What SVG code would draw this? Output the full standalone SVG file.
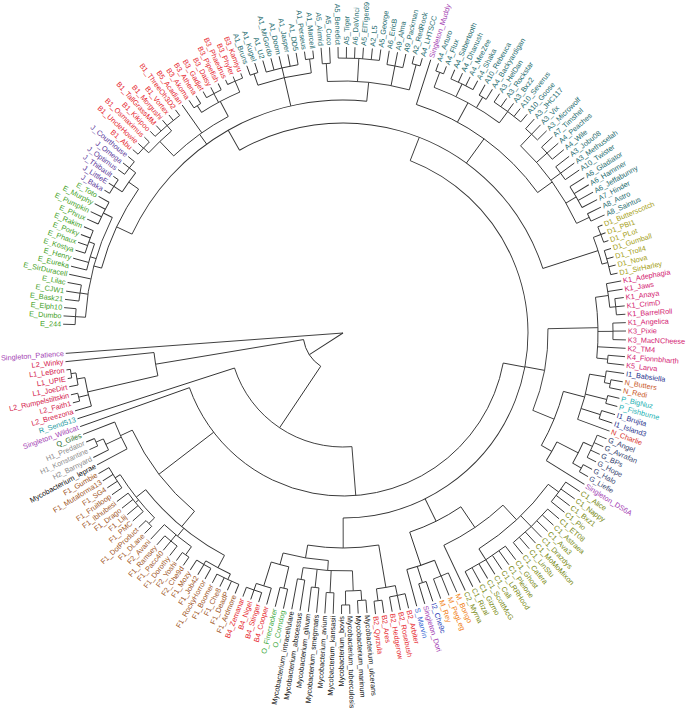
<svg xmlns="http://www.w3.org/2000/svg" width="689" height="716" viewBox="0 0 689 716">
<style>
#tree circle{fill:none;stroke:#333;stroke-width:.9}
#tree path{fill:none;stroke:#333;stroke-width:.9}
text{font-family:"Liberation Sans",Arial,sans-serif;font-size:7.3px}
.e text{text-anchor:end}
.A{fill:#246b6e}.B{fill:#e6262e}.J{fill:#5c3b9c}.E{fill:#3f9f26}.D{fill:#a5a015}.K{fill:#d3186f}
.I{fill:#27318c}.N{fill:#c9581f}.Nc{fill:#d8322b}.P{fill:#22b2b4}.G{fill:#35446f}.S{fill:#a33db3}
.C{fill:#788912}.M{fill:#f07e12}.I2{fill:#2c40b8}.Sm{fill:#2f62d2}.My{fill:#111}.O{fill:#3aa83a}
.F{fill:#9f571f}.H{fill:#8c8c8c}.Q{fill:#1f6c1f}.R{fill:#1f9ba2}.L{fill:#d4204b}
</style>
<rect width="689" height="716" fill="#fff"/>
<g id="tree" transform="translate(343 333)">
<path transform="rotate(535.8)" d="M0 0H278"/><path transform="rotate(507.18)" d="M0 0H40"/>
<circle r="40" pathLength="360" stroke-dasharray="46.75 999" transform="rotate(483.8)"/>
<path transform="rotate(483.8)" d="M40 0H114"/><path transform="rotate(530.55)" d="M40 0H190"/>
<circle r="190" pathLength="360" stroke-dasharray="7.1 999" transform="rotate(527)"/>
<path transform="rotate(527)" d="M190 0H262"/><path transform="rotate(534.1)" d="M190 0H279"/>
<circle r="262" pathLength="360" stroke-dasharray="6.4 999" transform="rotate(523.8)"/>
<path transform="rotate(523.8)" d="M262 0H279"/><path transform="rotate(526.35)" d="M262 0H272"/><path transform="rotate(530.2)" d="M262 0H270"/>
<circle r="272" pathLength="360" stroke-dasharray="1.7 999" transform="rotate(525.5)"/>
<path transform="rotate(525.5)" d="M272 0H279"/><path transform="rotate(527.2)" d="M272 0H279"/>
<circle r="270" pathLength="360" stroke-dasharray="2.6 999" transform="rotate(528.9)"/>
<path transform="rotate(528.9)" d="M270 0H279"/><path transform="rotate(531.5)" d="M270 0H275"/>
<circle r="275" pathLength="360" stroke-dasharray="1.8 999" transform="rotate(530.6)"/>
<path transform="rotate(530.6)" d="M275 0H279"/><path transform="rotate(532.4)" d="M275 0H279"/>
<circle r="114" pathLength="360" stroke-dasharray="76.59 999" transform="rotate(445.51)"/>
<path transform="rotate(445.51)" d="M114 0H163"/><path transform="rotate(522.1)" d="M114 0H279"/>
<circle r="163" pathLength="360" stroke-dasharray="149.78 999" transform="rotate(370.62)"/>
<path transform="rotate(370.62)" d="M163 0H185"/><path transform="rotate(502.5)" d="M163 0H232"/><path transform="rotate(520.4)" d="M163 0H279"/>
<circle r="232" pathLength="360" stroke-dasharray="25.45 999" transform="rotate(489.8)"/>
<path transform="rotate(489.8)" d="M232 0H252"/><path transform="rotate(515.25)" d="M232 0H245"/>
<circle r="252" pathLength="360" stroke-dasharray="23.5 999" transform="rotate(478.05)"/>
<path transform="rotate(478.05)" d="M252 0H266"/><path transform="rotate(489.18)" d="M252 0H262"/><path transform="rotate(501.55)" d="M252 0H264"/>
<circle r="266" pathLength="360" stroke-dasharray="6 999" transform="rotate(475.05)"/>
<path transform="rotate(475.05)" d="M266 0H272"/><path transform="rotate(481.05)" d="M266 0H270"/>
<circle r="272" pathLength="360" stroke-dasharray="5.1 999" transform="rotate(472.5)"/>
<path transform="rotate(472.5)" d="M272 0H282"/><path transform="rotate(474.2)" d="M272 0H282"/><path transform="rotate(475.9)" d="M272 0H282"/><path transform="rotate(477.6)" d="M272 0H282"/>
<circle r="270" pathLength="360" stroke-dasharray="3.5 999" transform="rotate(479.3)"/>
<path transform="rotate(479.3)" d="M270 0H282"/><path transform="rotate(481)" d="M270 0H282"/><path transform="rotate(482.8)" d="M270 0H282"/>
<circle r="262" pathLength="360" stroke-dasharray="7.65 999" transform="rotate(485.35)"/>
<path transform="rotate(485.35)" d="M262 0H272"/><path transform="rotate(489.6)" d="M262 0H270"/><path transform="rotate(493)" d="M262 0H282"/>
<circle r="272" pathLength="360" stroke-dasharray="1.7 999" transform="rotate(484.5)"/>
<path transform="rotate(484.5)" d="M272 0H282"/><path transform="rotate(486.2)" d="M272 0H282"/>
<circle r="270" pathLength="360" stroke-dasharray="3.4 999" transform="rotate(487.9)"/>
<path transform="rotate(487.9)" d="M270 0H282"/><path transform="rotate(489.6)" d="M270 0H282"/><path transform="rotate(491.3)" d="M270 0H282"/>
<circle r="264" pathLength="360" stroke-dasharray="12 999" transform="rotate(495.55)"/>
<path transform="rotate(495.55)" d="M264 0H272"/><path transform="rotate(500.75)" d="M264 0H268"/><path transform="rotate(507.55)" d="M264 0H270"/>
<circle r="272" pathLength="360" stroke-dasharray="1.7 999" transform="rotate(494.7)"/>
<path transform="rotate(494.7)" d="M272 0H282"/><path transform="rotate(496.4)" d="M272 0H282"/>
<circle r="268" pathLength="360" stroke-dasharray="5.1 999" transform="rotate(498.2)"/>
<path transform="rotate(498.2)" d="M268 0H282"/><path transform="rotate(499.9)" d="M268 0H282"/><path transform="rotate(501.6)" d="M268 0H282"/><path transform="rotate(503.3)" d="M268 0H282"/>
<circle r="270" pathLength="360" stroke-dasharray="5.1 999" transform="rotate(505)"/>
<path transform="rotate(505)" d="M270 0H282"/><path transform="rotate(506.7)" d="M270 0H282"/><path transform="rotate(508.4)" d="M270 0H282"/><path transform="rotate(510.1)" d="M270 0H282"/>
<circle r="245" pathLength="360" stroke-dasharray="6.9 999" transform="rotate(511.8)"/>
<path transform="rotate(511.8)" d="M245 0H279"/><path transform="rotate(514.83)" d="M245 0H262"/><path transform="rotate(518.7)" d="M245 0H279"/>
<circle r="262" pathLength="360" stroke-dasharray="2.65 999" transform="rotate(513.5)"/>
<path transform="rotate(513.5)" d="M262 0H279"/><path transform="rotate(516.15)" d="M262 0H270"/>
<circle r="270" pathLength="360" stroke-dasharray="1.7 999" transform="rotate(515.3)"/>
<path transform="rotate(515.3)" d="M270 0H279"/><path transform="rotate(517)" d="M270 0H279"/>
<circle r="185" pathLength="360" stroke-dasharray="158.66 999" transform="rotate(291.29)"/>
<path transform="rotate(291.29)" d="M185 0H210"/><path transform="rotate(370.5)" d="M185 0H205"/><path transform="rotate(423.67)" d="M185 0H210"/><path transform="rotate(449.95)" d="M185 0H215"/>
<circle r="210" pathLength="360" stroke-dasharray="101.62 999" transform="rotate(240.48)"/>
<path transform="rotate(240.48)" d="M210 0H233"/><path transform="rotate(305.99)" d="M210 0H240"/><path transform="rotate(342.1)" d="M210 0H268"/>
<circle r="233" pathLength="360" stroke-dasharray="70.75 999" transform="rotate(205.1)"/>
<path transform="rotate(205.1)" d="M233 0H250"/><path transform="rotate(234.18)" d="M233 0H245"/><path transform="rotate(257.05)" d="M233 0H262"/><path transform="rotate(275.85)" d="M233 0H252"/>
<circle r="250" pathLength="360" stroke-dasharray="20.1 999" transform="rotate(195.05)"/>
<path transform="rotate(195.05)" d="M250 0H258"/><path transform="rotate(215.15)" d="M250 0H262"/>
<circle r="258" pathLength="360" stroke-dasharray="23.1 999" transform="rotate(183.5)"/>
<path transform="rotate(183.5)" d="M258 0H268"/><path transform="rotate(188.65)" d="M258 0H266"/><path transform="rotate(192.1)" d="M258 0H280"/><path transform="rotate(196.78)" d="M258 0H264"/><path transform="rotate(206.6)" d="M258 0H268"/>
<circle r="268" pathLength="360" stroke-dasharray="3.4 999" transform="rotate(181.8)"/>
<path transform="rotate(181.8)" d="M268 0H280"/><path transform="rotate(183.5)" d="M268 0H280"/><path transform="rotate(185.2)" d="M268 0H280"/>
<circle r="266" pathLength="360" stroke-dasharray="3.5 999" transform="rotate(186.9)"/>
<path transform="rotate(186.9)" d="M266 0H280"/><path transform="rotate(188.6)" d="M266 0H280"/><path transform="rotate(190.4)" d="M266 0H280"/>
<circle r="264" pathLength="360" stroke-dasharray="5.95 999" transform="rotate(193.8)"/>
<path transform="rotate(193.8)" d="M264 0H280"/><path transform="rotate(195.5)" d="M264 0H280"/><path transform="rotate(199.75)" d="M264 0H270"/>
<circle r="270" pathLength="360" stroke-dasharray="5.1 999" transform="rotate(197.2)"/>
<path transform="rotate(197.2)" d="M270 0H280"/><path transform="rotate(198.9)" d="M270 0H280"/><path transform="rotate(200.6)" d="M270 0H280"/><path transform="rotate(202.3)" d="M270 0H280"/>
<circle r="268" pathLength="360" stroke-dasharray="5.2 999" transform="rotate(204)"/>
<path transform="rotate(204)" d="M268 0H280"/><path transform="rotate(205.7)" d="M268 0H280"/><path transform="rotate(207.5)" d="M268 0H280"/><path transform="rotate(209.2)" d="M268 0H280"/>
<circle r="262" pathLength="360" stroke-dasharray="5.1 999" transform="rotate(212.6)"/>
<path transform="rotate(212.6)" d="M262 0H272"/><path transform="rotate(217.7)" d="M262 0H270"/>
<circle r="272" pathLength="360" stroke-dasharray="3.4 999" transform="rotate(210.9)"/>
<path transform="rotate(210.9)" d="M272 0H278"/><path transform="rotate(212.6)" d="M272 0H278"/><path transform="rotate(214.3)" d="M272 0H278"/>
<circle r="270" pathLength="360" stroke-dasharray="3.4 999" transform="rotate(216)"/>
<path transform="rotate(216)" d="M270 0H278"/><path transform="rotate(217.7)" d="M270 0H278"/><path transform="rotate(219.4)" d="M270 0H278"/>
<circle r="245" pathLength="360" stroke-dasharray="15.8 999" transform="rotate(226.28)"/>
<path transform="rotate(226.28)" d="M245 0H265"/><path transform="rotate(234.8)" d="M245 0H279"/><path transform="rotate(242.08)" d="M245 0H262"/>
<circle r="265" pathLength="360" stroke-dasharray="6.85 999" transform="rotate(222.85)"/>
<path transform="rotate(222.85)" d="M265 0H272"/><path transform="rotate(229.7)" d="M265 0H272"/>
<circle r="272" pathLength="360" stroke-dasharray="3.5 999" transform="rotate(221.1)"/>
<path transform="rotate(221.1)" d="M272 0H279"/><path transform="rotate(222.8)" d="M272 0H279"/><path transform="rotate(224.6)" d="M272 0H279"/>
<circle r="272" pathLength="360" stroke-dasharray="6.8 999" transform="rotate(226.3)"/>
<path transform="rotate(226.3)" d="M272 0H279"/><path transform="rotate(228)" d="M272 0H279"/><path transform="rotate(229.7)" d="M272 0H279"/><path transform="rotate(231.4)" d="M272 0H279"/><path transform="rotate(233.1)" d="M272 0H279"/>
<circle r="262" pathLength="360" stroke-dasharray="9.45 999" transform="rotate(237.35)"/>
<path transform="rotate(237.35)" d="M262 0H270"/><path transform="rotate(241.65)" d="M262 0H272"/><path transform="rotate(246.8)" d="M262 0H274"/>
<circle r="270" pathLength="360" stroke-dasharray="1.7 999" transform="rotate(236.5)"/>
<path transform="rotate(236.5)" d="M270 0H279"/><path transform="rotate(238.2)" d="M270 0H279"/>
<circle r="272" pathLength="360" stroke-dasharray="3.5 999" transform="rotate(239.9)"/>
<path transform="rotate(239.9)" d="M272 0H279"/><path transform="rotate(241.7)" d="M272 0H279"/><path transform="rotate(243.4)" d="M272 0H279"/>
<circle r="274" pathLength="360" stroke-dasharray="3.4 999" transform="rotate(245.1)"/>
<path transform="rotate(245.1)" d="M274 0H279"/><path transform="rotate(246.8)" d="M274 0H279"/><path transform="rotate(248.5)" d="M274 0H279"/>
<circle r="262" pathLength="360" stroke-dasharray="12 999" transform="rotate(251.05)"/>
<path transform="rotate(251.05)" d="M262 0H274"/><path transform="rotate(257.05)" d="M262 0H272"/><path transform="rotate(263.05)" d="M262 0H276"/>
<circle r="274" pathLength="360" stroke-dasharray="1.7 999" transform="rotate(250.2)"/>
<path transform="rotate(250.2)" d="M274 0H284"/><path transform="rotate(251.9)" d="M274 0H284"/>
<circle r="272" pathLength="360" stroke-dasharray="6.9 999" transform="rotate(253.6)"/>
<path transform="rotate(253.6)" d="M272 0H284"/><path transform="rotate(255.3)" d="M272 0H284"/><path transform="rotate(257)" d="M272 0H284"/><path transform="rotate(258.8)" d="M272 0H284"/><path transform="rotate(260.5)" d="M272 0H284"/>
<circle r="276" pathLength="360" stroke-dasharray="1.7 999" transform="rotate(262.2)"/>
<path transform="rotate(262.2)" d="M276 0H284"/><path transform="rotate(263.9)" d="M276 0H284"/>
<circle r="252" pathLength="360" stroke-dasharray="18.8 999" transform="rotate(266.45)"/>
<path transform="rotate(266.45)" d="M252 0H270"/><path transform="rotate(273.3)" d="M252 0H275"/><path transform="rotate(281)" d="M252 0H272"/><path transform="rotate(285.25)" d="M252 0H278"/>
<circle r="270" pathLength="360" stroke-dasharray="1.7 999" transform="rotate(265.6)"/>
<path transform="rotate(265.6)" d="M270 0H286"/><path transform="rotate(267.3)" d="M270 0H286"/>
<circle r="275" pathLength="360" stroke-dasharray="8.6 999" transform="rotate(269)"/>
<path transform="rotate(269)" d="M275 0H286"/><path transform="rotate(270.7)" d="M275 0H286"/><path transform="rotate(272.4)" d="M275 0H286"/><path transform="rotate(274.1)" d="M275 0H286"/><path transform="rotate(275.9)" d="M275 0H286"/><path transform="rotate(277.6)" d="M275 0H286"/>
<circle r="272" pathLength="360" stroke-dasharray="3.4 999" transform="rotate(279.3)"/>
<path transform="rotate(279.3)" d="M272 0H286"/><path transform="rotate(281)" d="M272 0H286"/><path transform="rotate(282.7)" d="M272 0H286"/>
<circle r="278" pathLength="360" stroke-dasharray="1.7 999" transform="rotate(284.4)"/>
<path transform="rotate(284.4)" d="M278 0H286"/><path transform="rotate(286.1)" d="M278 0H286"/>
<circle r="240" pathLength="360" stroke-dasharray="36.38 999" transform="rotate(287.8)"/>
<path transform="rotate(287.8)" d="M240 0H287"/><path transform="rotate(298.5)" d="M240 0H262"/><path transform="rotate(324.18)" d="M240 0H258"/>
<circle r="262" pathLength="360" stroke-dasharray="16.3 999" transform="rotate(290.35)"/>
<path transform="rotate(290.35)" d="M262 0H278"/><path transform="rotate(295.55)" d="M262 0H276"/><path transform="rotate(300.65)" d="M262 0H274"/><path transform="rotate(306.65)" d="M262 0H276"/>
<circle r="278" pathLength="360" stroke-dasharray="1.7 999" transform="rotate(289.5)"/>
<path transform="rotate(289.5)" d="M278 0H286"/><path transform="rotate(291.2)" d="M278 0H286"/>
<circle r="276" pathLength="360" stroke-dasharray="5.1 999" transform="rotate(293)"/>
<path transform="rotate(293)" d="M276 0H286"/><path transform="rotate(294.7)" d="M276 0H286"/><path transform="rotate(296.4)" d="M276 0H286"/><path transform="rotate(298.1)" d="M276 0H286"/>
<circle r="274" pathLength="360" stroke-dasharray="1.7 999" transform="rotate(299.8)"/>
<path transform="rotate(299.8)" d="M274 0H286"/><path transform="rotate(301.5)" d="M274 0H286"/>
<circle r="276" pathLength="360" stroke-dasharray="6.9 999" transform="rotate(303.2)"/>
<path transform="rotate(303.2)" d="M276 0H286"/><path transform="rotate(304.9)" d="M276 0H286"/><path transform="rotate(306.6)" d="M276 0H286"/><path transform="rotate(308.3)" d="M276 0H286"/><path transform="rotate(310.1)" d="M276 0H286"/>
<circle r="258" pathLength="360" stroke-dasharray="21.35 999" transform="rotate(313.5)"/>
<path transform="rotate(313.5)" d="M258 0H274"/><path transform="rotate(318.6)" d="M258 0H272"/><path transform="rotate(323.7)" d="M258 0H270"/><path transform="rotate(329.75)" d="M258 0H270"/><path transform="rotate(334.85)" d="M258 0H272"/>
<circle r="274" pathLength="360" stroke-dasharray="3.4 999" transform="rotate(311.8)"/>
<path transform="rotate(311.8)" d="M274 0H287"/><path transform="rotate(313.5)" d="M274 0H287"/><path transform="rotate(315.2)" d="M274 0H287"/>
<circle r="272" pathLength="360" stroke-dasharray="3.4 999" transform="rotate(316.9)"/>
<path transform="rotate(316.9)" d="M272 0H287"/><path transform="rotate(318.6)" d="M272 0H287"/><path transform="rotate(320.3)" d="M272 0H287"/>
<circle r="270" pathLength="360" stroke-dasharray="3.4 999" transform="rotate(322)"/>
<path transform="rotate(322)" d="M270 0H287"/><path transform="rotate(323.7)" d="M270 0H287"/><path transform="rotate(325.4)" d="M270 0H287"/>
<circle r="270" pathLength="360" stroke-dasharray="5.1 999" transform="rotate(327.2)"/>
<path transform="rotate(327.2)" d="M270 0H287"/><path transform="rotate(328.9)" d="M270 0H287"/><path transform="rotate(330.6)" d="M270 0H287"/><path transform="rotate(332.3)" d="M270 0H287"/>
<circle r="272" pathLength="360" stroke-dasharray="1.7 999" transform="rotate(334)"/>
<path transform="rotate(334)" d="M272 0H287"/><path transform="rotate(335.7)" d="M272 0H287"/>
<circle r="268" pathLength="360" stroke-dasharray="6 999" transform="rotate(339.1)"/>
<path transform="rotate(339.1)" d="M268 0H276"/><path transform="rotate(345.1)" d="M268 0H274"/>
<circle r="276" pathLength="360" stroke-dasharray="3.4 999" transform="rotate(337.4)"/>
<path transform="rotate(337.4)" d="M276 0H281"/><path transform="rotate(339.1)" d="M276 0H281"/><path transform="rotate(340.8)" d="M276 0H281"/>
<circle r="274" pathLength="360" stroke-dasharray="5.2 999" transform="rotate(342.5)"/>
<path transform="rotate(342.5)" d="M274 0H281"/><path transform="rotate(344.3)" d="M274 0H281"/><path transform="rotate(346)" d="M274 0H281"/><path transform="rotate(347.7)" d="M274 0H281"/>
<circle r="205" pathLength="360" stroke-dasharray="23.4 999" transform="rotate(358.8)"/>
<path transform="rotate(358.8)" d="M205 0H255"/><path transform="rotate(382.2)" d="M205 0H228"/>
<circle r="255" pathLength="360" stroke-dasharray="13.7 999" transform="rotate(351.95)"/>
<path transform="rotate(351.95)" d="M255 0H268"/><path transform="rotate(359.65)" d="M255 0H270"/><path transform="rotate(363.1)" d="M255 0H283"/><path transform="rotate(365.65)" d="M255 0H266"/>
<circle r="268" pathLength="360" stroke-dasharray="5.1 999" transform="rotate(349.4)"/>
<path transform="rotate(349.4)" d="M268 0H283"/><path transform="rotate(351.1)" d="M268 0H283"/><path transform="rotate(354.5)" d="M268 0H274"/>
<circle r="274" pathLength="360" stroke-dasharray="3.4 999" transform="rotate(352.8)"/>
<path transform="rotate(352.8)" d="M274 0H283"/><path transform="rotate(354.5)" d="M274 0H283"/><path transform="rotate(356.2)" d="M274 0H283"/>
<circle r="270" pathLength="360" stroke-dasharray="3.5 999" transform="rotate(357.9)"/>
<path transform="rotate(357.9)" d="M270 0H283"/><path transform="rotate(359.6)" d="M270 0H283"/><path transform="rotate(361.4)" d="M270 0H283"/>
<circle r="266" pathLength="360" stroke-dasharray="1.7 999" transform="rotate(364.8)"/>
<path transform="rotate(364.8)" d="M266 0H283"/><path transform="rotate(366.5)" d="M266 0H283"/>
<circle r="228" pathLength="360" stroke-dasharray="14.71 999" transform="rotate(374.84)"/>
<path transform="rotate(374.84)" d="M228 0H250"/><path transform="rotate(389.55)" d="M228 0H240"/>
<circle r="250" pathLength="360" stroke-dasharray="10.72 999" transform="rotate(369.48)"/>
<path transform="rotate(369.48)" d="M250 0H266"/><path transform="rotate(374.15)" d="M250 0H272"/><path transform="rotate(377.6)" d="M250 0H270"/><path transform="rotate(380.2)" d="M250 0H284"/>
<circle r="266" pathLength="360" stroke-dasharray="2.55 999" transform="rotate(368.2)"/>
<path transform="rotate(368.2)" d="M266 0H284"/><path transform="rotate(370.75)" d="M266 0H272"/>
<circle r="272" pathLength="360" stroke-dasharray="1.7 999" transform="rotate(369.9)"/>
<path transform="rotate(369.9)" d="M272 0H284"/><path transform="rotate(371.6)" d="M272 0H284"/>
<circle r="272" pathLength="360" stroke-dasharray="1.7 999" transform="rotate(373.3)"/>
<path transform="rotate(373.3)" d="M272 0H284"/><path transform="rotate(375)" d="M272 0H284"/>
<circle r="270" pathLength="360" stroke-dasharray="1.8 999" transform="rotate(376.7)"/>
<path transform="rotate(376.7)" d="M270 0H284"/><path transform="rotate(378.5)" d="M270 0H284"/>
<circle r="240" pathLength="360" stroke-dasharray="5.1 999" transform="rotate(387)"/>
<path transform="rotate(387)" d="M240 0H264"/><path transform="rotate(392.1)" d="M240 0H285"/>
<circle r="264" pathLength="360" stroke-dasharray="5.1 999" transform="rotate(384.45)"/>
<path transform="rotate(384.45)" d="M264 0H274"/><path transform="rotate(389.55)" d="M264 0H274"/>
<circle r="274" pathLength="360" stroke-dasharray="5.1 999" transform="rotate(381.9)"/>
<path transform="rotate(381.9)" d="M274 0H284"/><path transform="rotate(383.6)" d="M274 0H284"/><path transform="rotate(385.3)" d="M274 0H284"/><path transform="rotate(387)" d="M274 0H284"/>
<circle r="274" pathLength="360" stroke-dasharray="1.7 999" transform="rotate(388.7)"/>
<path transform="rotate(388.7)" d="M274 0H284"/><path transform="rotate(390.4)" d="M274 0H284"/>
<circle r="210" pathLength="360" stroke-dasharray="15.63 999" transform="rotate(415.85)"/>
<path transform="rotate(415.85)" d="M210 0H235"/><path transform="rotate(431.48)" d="M210 0H245"/>
<circle r="235" pathLength="360" stroke-dasharray="17.5 999" transform="rotate(407.1)"/>
<path transform="rotate(407.1)" d="M235 0H255"/><path transform="rotate(424.6)" d="M235 0H285"/>
<circle r="255" pathLength="360" stroke-dasharray="21.4 999" transform="rotate(396.4)"/>
<path transform="rotate(396.4)" d="M255 0H268"/><path transform="rotate(405.8)" d="M255 0H270"/><path transform="rotate(417.8)" d="M255 0H268"/>
<circle r="268" pathLength="360" stroke-dasharray="5.2 999" transform="rotate(393.8)"/>
<path transform="rotate(393.8)" d="M268 0H285"/><path transform="rotate(395.6)" d="M268 0H285"/><path transform="rotate(397.3)" d="M268 0H285"/><path transform="rotate(399)" d="M268 0H285"/>
<circle r="270" pathLength="360" stroke-dasharray="10.2 999" transform="rotate(400.7)"/>
<path transform="rotate(400.7)" d="M270 0H285"/><path transform="rotate(402.4)" d="M270 0H285"/><path transform="rotate(404.1)" d="M270 0H285"/><path transform="rotate(405.8)" d="M270 0H285"/><path transform="rotate(407.5)" d="M270 0H285"/><path transform="rotate(409.2)" d="M270 0H285"/><path transform="rotate(410.9)" d="M270 0H285"/>
<circle r="268" pathLength="360" stroke-dasharray="10.2 999" transform="rotate(412.7)"/>
<path transform="rotate(412.7)" d="M268 0H285"/><path transform="rotate(414.4)" d="M268 0H285"/><path transform="rotate(416.1)" d="M268 0H285"/><path transform="rotate(417.8)" d="M268 0H285"/><path transform="rotate(419.5)" d="M268 0H285"/><path transform="rotate(421.2)" d="M268 0H285"/><path transform="rotate(422.9)" d="M268 0H285"/>
<circle r="245" pathLength="360" stroke-dasharray="6.85 999" transform="rotate(428.05)"/>
<path transform="rotate(428.05)" d="M245 0H262"/><path transform="rotate(432.35)" d="M245 0H262"/><path transform="rotate(434.9)" d="M245 0H283"/>
<circle r="262" pathLength="360" stroke-dasharray="3.5 999" transform="rotate(426.3)"/>
<path transform="rotate(426.3)" d="M262 0H283"/><path transform="rotate(428)" d="M262 0H283"/><path transform="rotate(429.8)" d="M262 0H283"/>
<circle r="262" pathLength="360" stroke-dasharray="1.7 999" transform="rotate(431.5)"/>
<path transform="rotate(431.5)" d="M262 0H283"/><path transform="rotate(433.2)" d="M262 0H283"/>
<circle r="215" pathLength="360" stroke-dasharray="19.03 999" transform="rotate(440.43)"/>
<path transform="rotate(440.43)" d="M215 0H258"/><path transform="rotate(459.46)" d="M215 0H228"/>
<circle r="258" pathLength="360" stroke-dasharray="4.25 999" transform="rotate(438.3)"/>
<path transform="rotate(438.3)" d="M258 0H268"/><path transform="rotate(442.55)" d="M258 0H270"/>
<circle r="268" pathLength="360" stroke-dasharray="3.4 999" transform="rotate(436.6)"/>
<path transform="rotate(436.6)" d="M268 0H283"/><path transform="rotate(438.3)" d="M268 0H283"/><path transform="rotate(440)" d="M268 0H283"/>
<circle r="270" pathLength="360" stroke-dasharray="1.7 999" transform="rotate(441.7)"/>
<path transform="rotate(441.7)" d="M270 0H283"/><path transform="rotate(443.4)" d="M270 0H283"/>
<circle r="228" pathLength="360" stroke-dasharray="11.54 999" transform="rotate(453.69)"/>
<path transform="rotate(453.69)" d="M228 0H238"/><path transform="rotate(465.23)" d="M228 0H240"/>
<circle r="238" pathLength="360" stroke-dasharray="11.92 999" transform="rotate(447.73)"/>
<path transform="rotate(447.73)" d="M238 0H258"/><path transform="rotate(452.85)" d="M238 0H260"/><path transform="rotate(456.25)" d="M238 0H256"/><path transform="rotate(459.65)" d="M238 0H250"/>
<circle r="258" pathLength="360" stroke-dasharray="3.45 999" transform="rotate(446)"/>
<path transform="rotate(446)" d="M258 0H268"/><path transform="rotate(449.45)" d="M258 0H272"/>
<circle r="268" pathLength="360" stroke-dasharray="1.8 999" transform="rotate(445.1)"/>
<path transform="rotate(445.1)" d="M268 0H281"/><path transform="rotate(446.9)" d="M268 0H281"/>
<circle r="272" pathLength="360" stroke-dasharray="1.7 999" transform="rotate(448.6)"/>
<path transform="rotate(448.6)" d="M272 0H281"/><path transform="rotate(450.3)" d="M272 0H281"/>
<circle r="260" pathLength="360" stroke-dasharray="1.7 999" transform="rotate(452)"/>
<path transform="rotate(452)" d="M260 0H281"/><path transform="rotate(453.7)" d="M260 0H281"/>
<circle r="256" pathLength="360" stroke-dasharray="1.7 999" transform="rotate(455.4)"/>
<path transform="rotate(455.4)" d="M256 0H281"/><path transform="rotate(457.1)" d="M256 0H281"/>
<circle r="250" pathLength="360" stroke-dasharray="1.7 999" transform="rotate(458.8)"/>
<path transform="rotate(458.8)" d="M250 0H281"/><path transform="rotate(460.5)" d="M250 0H281"/>
<circle r="240" pathLength="360" stroke-dasharray="4.35 999" transform="rotate(463.05)"/>
<path transform="rotate(463.05)" d="M240 0H262"/><path transform="rotate(467.4)" d="M240 0H265"/>
<circle r="262" pathLength="360" stroke-dasharray="1.7 999" transform="rotate(462.2)"/>
<path transform="rotate(462.2)" d="M262 0H282"/><path transform="rotate(463.9)" d="M262 0H282"/>
<circle r="265" pathLength="360" stroke-dasharray="3.4 999" transform="rotate(465.7)"/>
<path transform="rotate(465.7)" d="M265 0H282"/><path transform="rotate(469.1)" d="M265 0H272"/>
<circle r="272" pathLength="360" stroke-dasharray="3.4 999" transform="rotate(467.4)"/>
<path transform="rotate(467.4)" d="M272 0H282"/><path transform="rotate(469.1)" d="M272 0H282"/><path transform="rotate(470.8)" d="M272 0H282"/>
</g>
<g id="labels" transform="translate(343 333)">
<g id="cluster-E" class="E e">
<text transform="rotate(1.8)" x="-282" y="2.5">E_244</text>
<text transform="rotate(3.5)" x="-282" y="2.5">E_Dumbo</text>
<text transform="rotate(5.2)" x="-282" y="2.5">E_Elph10</text>
<text transform="rotate(6.9)" x="-282" y="2.5">E_Bask21</text>
<text transform="rotate(8.6)" x="-282" y="2.5">E_CJW1</text>
<text transform="rotate(10.4)" x="-282" y="2.5">E_Lilac</text>
<text transform="rotate(12.1)" x="-282" y="2.5">E_SirDuracell</text>
<text transform="rotate(13.8)" x="-282" y="2.5">E_Eureka</text>
<text transform="rotate(15.5)" x="-282" y="2.5">E_Henry</text>
<text transform="rotate(17.2)" x="-282" y="2.5">E_Kostya</text>
<text transform="rotate(18.9)" x="-282" y="2.5">E_Phaux</text>
<text transform="rotate(20.6)" x="-282" y="2.5">E_Porky</text>
<text transform="rotate(22.3)" x="-282" y="2.5">E_Rakim</text>
<text transform="rotate(24)" x="-282" y="2.5">E_Phrux</text>
<text transform="rotate(25.7)" x="-282" y="2.5">E_Pumpkin</text>
<text transform="rotate(27.5)" x="-282" y="2.5">E_Murphy</text>
<text transform="rotate(29.2)" x="-282" y="2.5">E_Toto</text>
</g>
<g id="cluster-J" class="J e">
<text transform="rotate(30.9)" x="-280" y="2.5">J_Baka</text>
<text transform="rotate(32.6)" x="-280" y="2.5">J_LittleE</text>
<text transform="rotate(34.3)" x="-280" y="2.5">J_Thibault</text>
<text transform="rotate(36)" x="-280" y="2.5">J_Optimus</text>
<text transform="rotate(37.7)" x="-280" y="2.5">J_Omega</text>
<text transform="rotate(39.4)" x="-280" y="2.5">J_Courthouse</text>
</g>
<g id="cluster-B1-B5-B3" class="B e">
<text transform="rotate(41.1)" x="-281" y="2.5">B1_Abu</text>
<text transform="rotate(42.8)" x="-281" y="2.5">B1_UncleHowie</text>
<text transform="rotate(44.6)" x="-281" y="2.5">B1_Osmaximus</text>
<text transform="rotate(46.3)" x="-281" y="2.5">B1_Kikipoo</text>
<text transform="rotate(48)" x="-281" y="2.5">B1_TallGrassMM</text>
<text transform="rotate(49.7)" x="-281" y="2.5">B1_Morgushi</text>
<text transform="rotate(51.4)" x="-281" y="2.5">B1_Vortex</text>
<text transform="rotate(53.1)" x="-281" y="2.5">B1_ThreeOh3D2</text>
<text transform="rotate(54.8)" x="-281" y="2.5">B5_Acadian</text>
<text transform="rotate(56.5)" x="-281" y="2.5">B3_Akoma</text>
<text transform="rotate(58.2)" x="-281" y="2.5">B3_Athena</text>
<text transform="rotate(59.9)" x="-281" y="2.5">B3_Gadjet</text>
<text transform="rotate(61.7)" x="-281" y="2.5">B3_Daisy</text>
<text transform="rotate(63.4)" x="-281" y="2.5">B3_Pipefish</text>
<text transform="rotate(65.1)" x="-281" y="2.5">B3_Phaedrus</text>
<text transform="rotate(66.8)" x="-281" y="2.5">B3_Phyler</text>
<text transform="rotate(68.5)" x="-281" y="2.5">B3_Kamiyu</text>
</g>
<g id="cluster-A-left" class="A e">
<text transform="rotate(70.2)" x="-286" y="2.5">A1_Bruns</text>
<text transform="rotate(71.9)" x="-286" y="2.5">A1_Kugel</text>
<text transform="rotate(73.6)" x="-286" y="2.5">A1_U2</text>
<text transform="rotate(75.3)" x="-286" y="2.5">A1_MrGordo</text>
<text transform="rotate(77)" x="-286" y="2.5">A1_Doom</text>
<text transform="rotate(78.8)" x="-286" y="2.5">A1_Jasper</text>
<text transform="rotate(80.5)" x="-286" y="2.5">A1_DD5</text>
<text transform="rotate(82.2)" x="-286" y="2.5">A1_Perseus</text>
<text transform="rotate(83.9)" x="-286" y="2.5">A1_Marcell</text>
<text transform="rotate(85.6)" x="-288" y="2.5">A5_Airmid</text>
<text transform="rotate(87.3)" x="-288" y="2.5">A5_Cuco</text>
<text transform="rotate(89)" x="-288" y="2.5">A5_Benedict</text>
</g>
<g id="cluster-A-right" class="A">
<text transform="rotate(270.7)" x="288" y="2.5">A5_Tiger</text>
<text transform="rotate(272.4)" x="288" y="2.5">A6_DaVinci</text>
<text transform="rotate(274.1)" x="288" y="2.5">A5_ElTiger69</text>
<text transform="rotate(275.9)" x="288" y="2.5">A2_L5</text>
<text transform="rotate(277.6)" x="288" y="2.5">A5_George</text>
<text transform="rotate(279.3)" x="288" y="2.5">A6_EricB</text>
<text transform="rotate(281)" x="288" y="2.5">A9_Alma</text>
<text transform="rotate(282.7)" x="288" y="2.5">A9_Packman</text>
<text transform="rotate(284.4)" x="288" y="2.5">A2_RedRock</text>
<text transform="rotate(286.1)" x="288" y="2.5">A4_LHTSCC</text>
<text class="S" transform="rotate(287.8)" x="289" y="2.5">Singleton_Muddy</text>
<text transform="rotate(289.5)" x="288" y="2.5">A4_Arturo</text>
<text transform="rotate(291.2)" x="288" y="2.5">A4_Flux</text>
<text transform="rotate(293)" x="288" y="2.5">A4_Sabertooth</text>
<text transform="rotate(294.7)" x="288" y="2.5">A4_Dhanush</text>
<text transform="rotate(296.4)" x="288" y="2.5">A4_MeeZee</text>
<text transform="rotate(298.1)" x="288" y="2.5">A4_Shaka</text>
<text transform="rotate(299.8)" x="288" y="2.5">A10_Rebeuca</text>
<text transform="rotate(301.5)" x="288" y="2.5">A4_Backyardigan</text>
<text transform="rotate(303.2)" x="288" y="2.5">A3_HelDan</text>
<text transform="rotate(304.9)" x="288" y="2.5">A3_Rockstar</text>
<text transform="rotate(306.6)" x="288" y="2.5">A3_Bxz2</text>
<text transform="rotate(308.3)" x="288" y="2.5">A10_Severus</text>
<text transform="rotate(310.1)" x="288" y="2.5">A10_Goose</text>
<text transform="rotate(311.8)" x="289" y="2.5">A3_JHC117</text>
<text transform="rotate(313.5)" x="289" y="2.5">A3_Vix</text>
<text transform="rotate(315.2)" x="289" y="2.5">A3_Microwolf</text>
<text transform="rotate(316.9)" x="289" y="2.5">A7_Timshel</text>
<text transform="rotate(318.6)" x="289" y="2.5">A4_Peaches</text>
<text transform="rotate(320.3)" x="289" y="2.5">A4_Wile</text>
<text transform="rotate(322)" x="289" y="2.5">A3_Jobu08</text>
<text transform="rotate(323.7)" x="289" y="2.5">A3_Methuselah</text>
<text transform="rotate(325.4)" x="289" y="2.5">A10_Twister</text>
<text transform="rotate(327.2)" x="289" y="2.5">A6_Gladiator</text>
<text transform="rotate(328.9)" x="289" y="2.5">A6_Hammer</text>
<text transform="rotate(330.6)" x="289" y="2.5">A6_Jeffabunny</text>
<text transform="rotate(332.3)" x="289" y="2.5">A7_Hinder</text>
<text transform="rotate(334)" x="289" y="2.5">A8_Astro</text>
<text transform="rotate(335.7)" x="289" y="2.5">A8_Saintus</text>
</g>
<g id="cluster-D1" class="D">
<text transform="rotate(337.4)" x="283" y="2.5">D1_Butterscotch</text>
<text transform="rotate(339.1)" x="283" y="2.5">D1_PBI1</text>
<text transform="rotate(340.8)" x="283" y="2.5">D1_PLot</text>
<text transform="rotate(342.5)" x="283" y="2.5">D1_Gumball</text>
<text transform="rotate(344.3)" x="283" y="2.5">D1_Troll4</text>
<text transform="rotate(346)" x="283" y="2.5">D1_Nova</text>
<text transform="rotate(347.7)" x="283" y="2.5">D1_SirHarley</text>
</g>
<g id="cluster-K" class="K">
<text transform="rotate(349.4)" x="285" y="2.5">K1_Adephagia</text>
<text transform="rotate(351.1)" x="285" y="2.5">K1_Jaws</text>
<text transform="rotate(352.8)" x="285" y="2.5">K1_Anaya</text>
<text transform="rotate(354.5)" x="285" y="2.5">K1_CrimD</text>
<text transform="rotate(356.2)" x="285" y="2.5">K1_BarrelRoll</text>
<text transform="rotate(357.9)" x="285" y="2.5">K1_Angelica</text>
<text transform="rotate(359.6)" x="285" y="2.5">K3_Pixie</text>
<text transform="rotate(1.4)" x="285" y="2.5">K3_MacNCheese</text>
<text transform="rotate(3.1)" x="285" y="2.5">K2_TM4</text>
<text transform="rotate(4.8)" x="285" y="2.5">K4_Fionnbharth</text>
<text transform="rotate(6.5)" x="285" y="2.5">K5_Larva</text>
</g>
<g id="cluster-I-N-P-G">
<text class="I" transform="rotate(8.2)" x="286" y="2.5">I1_Babsiella</text>
<text class="N" transform="rotate(9.9)" x="286" y="2.5">N_Butters</text>
<text class="N" transform="rotate(11.6)" x="286" y="2.5">N_Redi</text>
<text class="P" transform="rotate(13.3)" x="286" y="2.5">P_BigNuz</text>
<text class="P" transform="rotate(15)" x="286" y="2.5">P_Fishburne</text>
<text class="I" transform="rotate(16.7)" x="286" y="2.5">I1_Brujita</text>
<text class="I" transform="rotate(18.5)" x="286" y="2.5">I1_Island3</text>
<text class="Nc" transform="rotate(20.2)" x="286" y="2.5">N_Charlie</text>
<text class="G" transform="rotate(21.9)" x="286" y="2.5">G_Angel</text>
<text class="G" transform="rotate(23.6)" x="286" y="2.5">G_Avrafan</text>
<text class="G" transform="rotate(25.3)" x="286" y="2.5">G_BPs</text>
<text class="G" transform="rotate(27)" x="286" y="2.5">G_Hope</text>
<text class="G" transform="rotate(28.7)" x="286" y="2.5">G_Halo</text>
<text class="G" transform="rotate(30.4)" x="286" y="2.5">G_Liefie</text>
<text class="S" transform="rotate(32.1)" x="287" y="2.5">Singleton_DS6A</text>
</g>
<g id="cluster-C" class="C">
<text transform="rotate(33.8)" x="287" y="2.5">C1_Alice</text>
<text transform="rotate(35.6)" x="287" y="2.5">C1_Nappy</text>
<text transform="rotate(37.3)" x="287" y="2.5">C1_Bxz1</text>
<text transform="rotate(39)" x="287" y="2.5">C1_Pio</text>
<text transform="rotate(40.7)" x="287" y="2.5">C1_ET08</text>
<text transform="rotate(42.4)" x="287" y="2.5">C1_Astraea</text>
<text transform="rotate(44.1)" x="287" y="2.5">C1_Ava3</text>
<text transform="rotate(45.8)" x="287" y="2.5">C1_Drazdys</text>
<text transform="rotate(47.5)" x="287" y="2.5">C1_MoMoMixon</text>
<text transform="rotate(49.2)" x="287" y="2.5">C1_LinStu</text>
<text transform="rotate(50.9)" x="287" y="2.5">C1_Catera</text>
<text transform="rotate(52.7)" x="287" y="2.5">C1_Ghost</text>
<text transform="rotate(54.4)" x="287" y="2.5">C1_Pleione</text>
<text transform="rotate(56.1)" x="287" y="2.5">C1_LRRHood</text>
<text transform="rotate(57.8)" x="287" y="2.5">C1_Cali</text>
<text transform="rotate(59.5)" x="287" y="2.5">C1_ScottMcG</text>
<text transform="rotate(61.2)" x="287" y="2.5">C1_Gizmo</text>
<text transform="rotate(62.9)" x="287" y="2.5">C1_Rizal</text>
<text transform="rotate(64.6)" x="287" y="2.5">C2_Myrna</text>
</g>
<g id="cluster-M-I2-S">
<text class="M" transform="rotate(66.3)" x="285" y="2.5">M_Bongo</text>
<text class="M" transform="rotate(68)" x="285" y="2.5">M_PegLeg</text>
<text class="M" transform="rotate(69.8)" x="285" y="2.5">M_Rey</text>
<text class="I2" transform="rotate(71.5)" x="285" y="2.5">I2_Che9c</text>
<text class="S" transform="rotate(73.2)" x="285" y="2.5">Singleton_Dori</text>
<text class="Sm" transform="rotate(74.9)" x="285" y="2.5">S_Marvin</text>
</g>
<g id="cluster-B2" class="B">
<text transform="rotate(76.6)" x="285" y="2.5">B2_Arbiter</text>
<text transform="rotate(78.3)" x="285" y="2.5">B2_Rosebush</text>
<text transform="rotate(80)" x="285" y="2.5">B2_Hedgerow</text>
<text transform="rotate(81.7)" x="285" y="2.5">B2_Ares</text>
<text transform="rotate(83.4)" x="285" y="2.5">B2_Qyrzula</text>
</g>
<g id="hosts-right" class="My">
<text transform="rotate(85.1)" x="283" y="2.5">Mycobacterium_ulcerans</text>
<text transform="rotate(86.9)" x="283" y="2.5">Mycobacterium_marinum</text>
<text transform="rotate(88.6)" x="283" y="2.5">Mycobacterium_tuberculosis</text>
</g>
<g id="hosts-left" class="My e">
<text transform="rotate(270.3)" x="-283" y="2.5">Mycobacterium_bovis</text>
<text transform="rotate(272)" x="-283" y="2.5">Mycobacterium_kansasii</text>
<text transform="rotate(273.7)" x="-283" y="2.5">Mycobacterium_avium</text>
<text transform="rotate(275.4)" x="-283" y="2.5">Mycobacterium_smegmatis</text>
<text transform="rotate(277.1)" x="-283" y="2.5">Mycobacterium_gilvum</text>
<text transform="rotate(278.8)" x="-283" y="2.5">Mycobacterium_abscessus</text>
<text transform="rotate(280.5)" x="-283" y="2.5">Mycobacterium_intracellulare</text>
</g>
<g id="cluster-O-B4" class="e">
<text class="O" transform="rotate(282.2)" x="-284" y="2.5">O_Corndog</text>
<text class="O" transform="rotate(283.9)" x="-284" y="2.5">O_Firecracker</text>
<text class="B" transform="rotate(285.7)" x="-284" y="2.5">B4_Cooper</text>
<text class="B" transform="rotate(287.4)" x="-284" y="2.5">B4_Stinger</text>
<text class="B" transform="rotate(289.1)" x="-284" y="2.5">B4_Nigel</text>
<text class="B" transform="rotate(290.8)" x="-284" y="2.5">B4_Zemanar</text>
</g>
<g id="cluster-F" class="F e">
<text transform="rotate(292.5)" x="-284" y="2.5">F1_Ardmore</text>
<text transform="rotate(294.2)" x="-284" y="2.5">F1_DeadP</text>
<text transform="rotate(295.9)" x="-284" y="2.5">F1_Che8</text>
<text transform="rotate(297.6)" x="-284" y="2.5">F1_Boomer</text>
<text transform="rotate(299.3)" x="-284" y="2.5">F1_RockyHorror</text>
<text transform="rotate(301)" x="-284" y="2.5">F1_Job42</text>
<text transform="rotate(302.8)" x="-284" y="2.5">F1_Mozy</text>
<text transform="rotate(304.5)" x="-284" y="2.5">F2_Che9d</text>
<text transform="rotate(306.2)" x="-284" y="2.5">F2_Yoshi</text>
<text transform="rotate(307.9)" x="-284" y="2.5">F1_Dorothy</text>
<text transform="rotate(309.6)" x="-284" y="2.5">F1_Pacc40</text>
<text transform="rotate(311.3)" x="-284" y="2.5">F1_Ramsey</text>
<text transform="rotate(313)" x="-284" y="2.5">F2_Avani</text>
<text transform="rotate(314.7)" x="-284" y="2.5">F1_DLane</text>
<text transform="rotate(316.4)" x="-284" y="2.5">F1_DotProduct</text>
<text transform="rotate(318.2)" x="-284" y="2.5">F1_PMC</text>
<text transform="rotate(319.9)" x="-284" y="2.5">F1_Llij</text>
<text transform="rotate(321.6)" x="-284" y="2.5">F1_Drago</text>
<text transform="rotate(323.3)" x="-284" y="2.5">F1_Ibhubesi</text>
<text transform="rotate(325)" x="-284" y="2.5">F1_Fruitloop</text>
<text transform="rotate(326.7)" x="-284" y="2.5">F1_SG4</text>
<text transform="rotate(328.4)" x="-284" y="2.5">F1_Mutaforma13</text>
<text transform="rotate(330.1)" x="-284" y="2.5">F1_Gumbie</text>
</g>
<g id="cluster-H-Q-R" class="e">
<text class="My" transform="rotate(331.8)" x="-281" y="2.5">Mycobacterium_leprae</text>
<text class="H" transform="rotate(333.5)" x="-281" y="2.5">H2_Barnyard</text>
<text class="H" transform="rotate(335.3)" x="-281" y="2.5">H1_Konstantine</text>
<text class="H" transform="rotate(337)" x="-281" y="2.5">H1_Predator</text>
<text class="Q" transform="rotate(338.7)" x="-281" y="2.5">Q_Giles</text>
<text class="S" transform="rotate(340.4)" x="-281" y="2.5">Singleton_Wildcat</text>
<text class="R" transform="rotate(342.1)" x="-281" y="2.5">R_Send513</text>
</g>
<g id="cluster-L" class="L e">
<text transform="rotate(343.8)" x="-281" y="2.5">L2_Breezona</text>
<text transform="rotate(345.5)" x="-281" y="2.5">L2_Faith1</text>
<text transform="rotate(347.2)" x="-281" y="2.5">L2_Rumpelstiltskin</text>
<text transform="rotate(348.9)" x="-281" y="2.5">L1_JoeDirt</text>
<text transform="rotate(350.6)" x="-281" y="2.5">L1_UPIE</text>
<text transform="rotate(352.4)" x="-281" y="2.5">L1_LeBron</text>
<text transform="rotate(354.1)" x="-281" y="2.5">L2_Winky</text>
</g>
<g id="singleton-patience" class="S e">
<text transform="rotate(355.8)" x="-280" y="2.5">Singleton_Patience</text>
</g>
</g>
</svg>
